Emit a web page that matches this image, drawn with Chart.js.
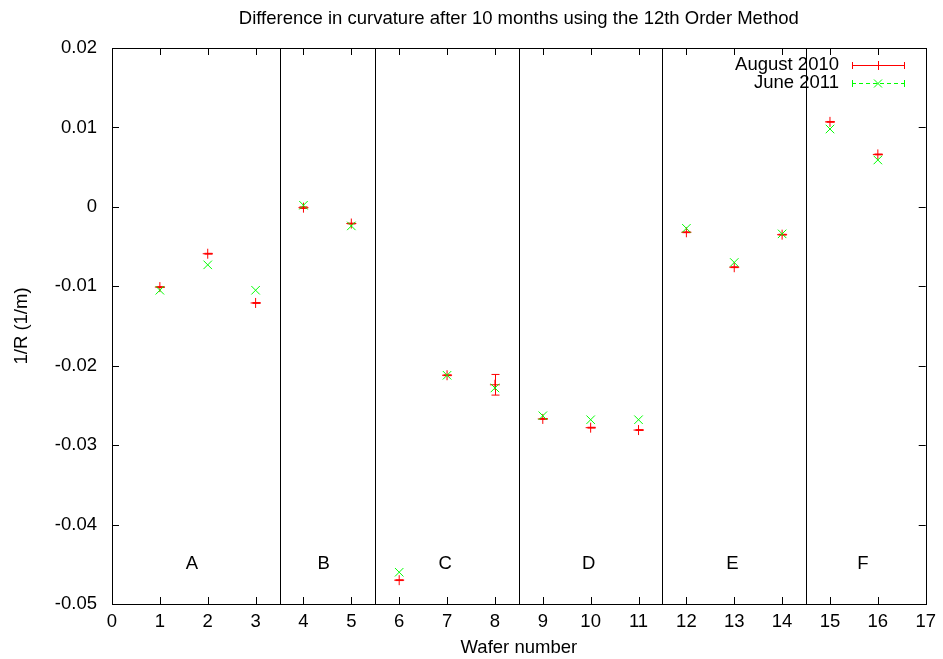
<!DOCTYPE html>
<html>
<head>
<meta charset="utf-8">
<script src="https://cdn.jsdelivr.net/npm/chart.js@4.4.1/dist/chart.umd.min.js"></script>
<style>
html, body { margin: 0; padding: 0; background: #fff; }
#wrap { width: 943px; height: 659px; position: relative; }
</style>
</head>
<body>
<div id="wrap"><canvas id="chart"></canvas></div>
<script>
// Data
const wafers = [1, 2, 3, 4, 5, 6, 7, 8, 9, 10, 11, 12, 13, 14, 15, 16];
const august2010 = [-0.0101, -0.0059, -0.0121, -0.0001, -0.0021, -0.0470, -0.0212, -0.0224,
    -0.0267, -0.0278, -0.0281, -0.0032, -0.0076, -0.0035, 0.0107, 0.0066];
const august2010Err = [0.00005, 0.00005, 0.00005, 0.0001, 0.00005, 0.00005, 0.00005, 0.0013,
    0.00005, 0.00005, 0.00005, 0.00005, 0.00005, 0.00005, 0.00005, 0.00005];
const june2011 = [-0.0105, -0.0073, -0.0105, 0.0002, -0.0024, -0.0460, -0.0212, -0.0228,
    -0.0263, -0.0268, -0.0268, -0.0027, -0.0070, -0.0034, 0.0098, 0.0059];

// Group separators and labels
const separators = [3.5, 5.5, 8.5, 11.5, 14.5];
const groupNames = ['A', 'B', 'C', 'D', 'E', 'F'];
const groupPos = [1.67, 4.42, 6.96, 9.96, 12.96, 15.69];
const groupLabelY = -0.045;

const xTicks = [0, 1, 2, 3, 4, 5, 6, 7, 8, 9, 10, 11, 12, 13, 14, 15, 16, 17];
const yTicks = [0.02, 0.01, 0, -0.01, -0.02, -0.03, -0.04, -0.05];

const FONT = 'Liberation Sans, Arial, sans-serif';
const FS = 18.5;
const RED = '#ff0000';
const GREEN = '#00ff00';

// Gnuplot-style frame, inward ticks, separators, error bars, labels and key
const gnuplotDecor = {
    id: 'gnuplotDecor',
    beforeDatasetsDraw(chart) {
        const ctx = chart.ctx;
        const a = chart.chartArea;
        const xs = chart.scales.x;
        const ys = chart.scales.y;
        ctx.save();
        ctx.strokeStyle = '#000';
        ctx.lineWidth = 1;

        // separators
        separators.forEach(s => {
            const px = Math.round(xs.getPixelForValue(s)) + 0.5;
            ctx.beginPath();
            ctx.moveTo(px, a.top);
            ctx.lineTo(px, a.bottom);
            ctx.stroke();
        });

        // ticks, mirrored
        const tl = 7;
        xTicks.forEach(t => {
            const px = Math.round(xs.getPixelForValue(t)) + 0.5;
            ctx.beginPath();
            ctx.moveTo(px, a.bottom);
            ctx.lineTo(px, a.bottom - tl);
            ctx.moveTo(px, a.top);
            ctx.lineTo(px, a.top + tl);
            ctx.stroke();
        });
        yTicks.forEach(t => {
            const py = Math.round(ys.getPixelForValue(t)) + 0.5;
            ctx.beginPath();
            ctx.moveTo(a.left, py);
            ctx.lineTo(a.left + tl, py);
            ctx.moveTo(a.right, py);
            ctx.lineTo(a.right - tl, py);
            ctx.stroke();
        });

        // frame
        ctx.strokeRect(Math.round(a.left) + 0.5, Math.round(a.top) + 0.5,
            Math.round(a.right - a.left), Math.round(a.bottom - a.top));

        // error bars for August 2010
        ctx.strokeStyle = RED;
        wafers.forEach((w, i) => {
            const px = Math.round(xs.getPixelForValue(w)) + 0.5;
            const y1 = ys.getPixelForValue(august2010[i] - august2010Err[i]);
            const y2 = ys.getPixelForValue(august2010[i] + august2010Err[i]);
            ctx.beginPath();
            ctx.moveTo(px, y1);
            ctx.lineTo(px, y2);
            ctx.moveTo(px - 4, y1);
            ctx.lineTo(px + 4, y1);
            ctx.moveTo(px - 4, y2);
            ctx.lineTo(px + 4, y2);
            ctx.stroke();
        });
        ctx.restore();
    },
    afterDraw(chart) {
        const ctx = chart.ctx;
        const a = chart.chartArea;
        const xs = chart.scales.x;
        const ys = chart.scales.y;
        ctx.save();
        ctx.fillStyle = '#000';
        ctx.font = FS + 'px ' + FONT;
        ctx.textAlign = 'center';
        ctx.textBaseline = 'middle';

        // group letters
        groupNames.forEach((g, i) => {
            ctx.fillText(g, xs.getPixelForValue(groupPos[i]), ys.getPixelForValue(groupLabelY));
        });

        // title
        ctx.fillText('Difference in curvature after 10 months using the 12th Order Method',
            (a.left + a.right) / 2, 19);

        // key
        ctx.textAlign = 'right';
        ctx.fillText('August 2010', 839, 65);
        ctx.fillText('June 2011', 839, 83);

        const x1 = 852, x2 = 905, xm = 878;
        ctx.lineWidth = 1;
        ctx.strokeStyle = RED;
        ctx.beginPath();
        ctx.moveTo(x1, 65.5);
        ctx.lineTo(x2, 65.5);
        ctx.moveTo(x1 + 0.5, 62);
        ctx.lineTo(x1 + 0.5, 69);
        ctx.moveTo(x2 - 0.5, 62);
        ctx.lineTo(x2 - 0.5, 69);
        ctx.moveTo(xm + 0.5, 61);
        ctx.lineTo(xm + 0.5, 70);
        ctx.stroke();

        ctx.strokeStyle = GREEN;
        ctx.setLineDash([4, 3]);
        ctx.beginPath();
        ctx.moveTo(x1, 83.5);
        ctx.lineTo(x2, 83.5);
        ctx.stroke();
        ctx.setLineDash([]);
        ctx.beginPath();
        ctx.moveTo(x1 + 0.5, 80);
        ctx.lineTo(x1 + 0.5, 87);
        ctx.moveTo(x2 - 0.5, 80);
        ctx.lineTo(x2 - 0.5, 87);
        ctx.moveTo(xm - 4, 79.5);
        ctx.lineTo(xm + 4, 87.5);
        ctx.moveTo(xm + 4, 79.5);
        ctx.lineTo(xm - 4, 87.5);
        ctx.stroke();
        ctx.restore();
    }
};

new Chart(document.getElementById('chart'), {
    type: 'scatter',
    data: {
        datasets: [
            {
                label: 'June 2011',
                data: wafers.map((w, i) => ({ x: w, y: june2011[i] })),
                pointStyle: 'crossRot',
                pointRadius: 6,
                borderColor: GREEN,
                backgroundColor: GREEN,
                borderWidth: 1,
                showLine: false
            },
            {
                label: 'August 2010',
                data: wafers.map((w, i) => ({ x: w, y: august2010[i] })),
                pointStyle: 'cross',
                pointRadius: 5,
                borderColor: RED,
                backgroundColor: RED,
                borderWidth: 1,
                showLine: false
            }
        ]
    },
    options: {
        responsive: true,
        maintainAspectRatio: false,
        animation: false,
        layout: { padding: { left: 0, right: 14, top: 48, bottom: 0 } },
        plugins: {
            legend: { display: false },
            tooltip: { enabled: false },
            title: { display: false }
        },
        scales: {
            x: {
                type: 'linear',
                min: 0,
                max: 17,
                afterFit: scale => { scale.height = 55; },
                afterBuildTicks: scale => { scale.ticks = xTicks.map(v => ({ value: v })); },
                grid: { display: false, drawTicks: false },
                border: { display: false },
                ticks: {
                    autoSkip: false,
                    maxRotation: 0,
                    padding: 7,
                    color: '#000',
                    font: { family: FONT, size: FS }
                },
                title: {
                    display: true,
                    text: 'Wafer number',
                    color: '#000',
                    padding: 0,
                    font: { family: FONT, size: FS }
                }
            },
            y: {
                type: 'linear',
                min: -0.05,
                max: 0.02,
                afterFit: scale => { scale.width = 112; },
                afterBuildTicks: scale => { scale.ticks = yTicks.map(v => ({ value: v })); },
                grid: { display: false, drawTicks: false },
                border: { display: false },
                ticks: {
                    padding: 15,
                    color: '#000',
                    font: { family: FONT, size: FS },
                    callback: v => (Math.abs(v) < 1e-9 ? '0' : v.toFixed(2))
                },
                title: {
                    display: true,
                    text: '1/R (1/m)',
                    color: '#000',
                    padding: { top: 11, bottom: 0 },
                    font: { family: FONT, size: FS }
                }
            }
        }
    },
    plugins: [gnuplotDecor]
});
</script>
</body>
</html>
